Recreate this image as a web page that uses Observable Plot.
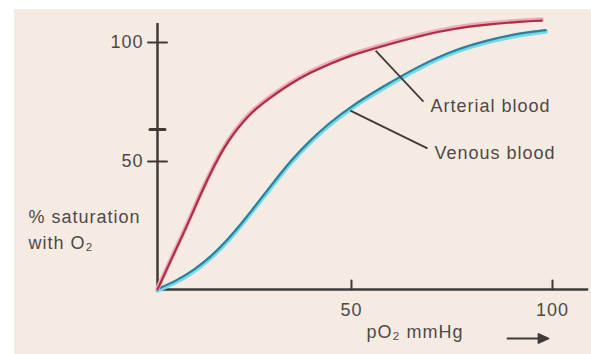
<!DOCTYPE html>
<html><head><meta charset="utf-8">
<script src="https://cdn.jsdelivr.net/npm/d3@7"></script>
<script src="https://cdn.jsdelivr.net/npm/@observablehq/plot@0.6"></script>
<style>
html,body{margin:0;padding:0;background:#fff;}
#chart{position:absolute;left:14px;top:9px;}
</style></head><body><div id="chart"></div>
<script>
// ---- data ----
const seriesNames = ["Arterial blood", "Venous blood"];
const arterialPO2 = [0, 3.4, 6.7, 9.3, 11.9, 14.4, 17, 19.6, 24, 29.1, 34.3, 39.4, 44.6, 49.7, 57.2, 67.2, 75.4, 83.8, 92, 97.3];
const arterialSat = [0, 11.3, 21.9, 30.9, 39.8, 47.7, 55.5, 61.8, 70.6, 76.9, 82.8, 87.4, 91.2, 94.5, 98.3, 102.9, 105.9, 107.6, 108.8, 109.2];
const venousPO2 = [0, 5.2, 9.3, 13.7, 18, 22.2, 26.6, 30.4, 34.5, 39.4, 44.6, 49.7, 57.2, 67.2, 75.4, 83.8, 92, 98.3];
const venousSat = [0, 3.5, 7.4, 12.5, 19.1, 26.6, 35.2, 42.6, 50.4, 58.8, 66.4, 72.7, 80.7, 90.3, 96.6, 100.8, 103.8, 105];
const xTickValues = [50, 100];
const yTickValues = [50, 100];
const yExtraTick = [63.4];
const xAxisExtent = [0, 109];
const yAxisExtent = [0, 108];
const leaderFromPO2 = [56, 49.7];
const leaderFromSat = [96.6, 71.4];
const leaderToPO2 = [67.9, 68.9];
const leaderToSat = [75.2, 55.5];
const yTitle = "% saturation\nwith O\u2082";
const xTitle = "pO\u2082 mmHg";

// ---- build tables ----
const toRows = (xs, ys) => xs.map((x, i) => ({x, y: ys[i]}));
const arterial = toRows(arterialPO2, arterialSat);
const venous = toRows(venousPO2, venousSat);
const leaders = seriesNames.map((name, i) => ({name, x1: leaderFromPO2[i], y1: leaderFromSat[i], x2: leaderToPO2[i], y2: leaderToSat[i]}));

// the printed axes are slightly uneven (hand-drawn); warp to match
const warpX = d3.scaleLinear().domain([0, 50, 100]).range([0, 49.11, 100]);
const warpY = d3.scaleLinear().domain([0, 50, 100]).range([0, 51.82, 100]);

const axisColor = "#3f3b38";
const textColor = "#4d4946";
const spike = {draw(ctx, l) { ctx.moveTo(0, 0); ctx.lineTo(0, -l); }};
const arrowShape = {draw(ctx, l) {
  const h = 10, w = 4.5;
  ctx.moveTo(0, 0); ctx.lineTo(0, -l + h);
  ctx.moveTo(-w, -l + h); ctx.lineTo(0, -l); ctx.lineTo(w, -l + h); ctx.closePath();
}};

const chart = Plot.plot({
  width: 577, height: 345,
  marginLeft: 143, marginRight: 39, marginTop: 33, marginBottom: 65,
  x: {type: "linear", transform: warpX, domain: [0, 100], range: [143, 538], axis: null},
  y: {type: "linear", transform: warpY, domain: [0, 100], range: [280, 33], axis: null},
  style: {background: "#f6ebe3", color: textColor, fontFamily: "'Liberation Sans', Arial, sans-serif", fontSize: "18px", letterSpacing: "1px"},
  marks: [
    Plot.ruleY([0], {x1: xAxisExtent[0], x2: xAxisExtent[1], stroke: axisColor, strokeWidth: 2.5}),
    Plot.ruleX([0], {y1: yAxisExtent[0], y2: yAxisExtent[1], stroke: axisColor, strokeWidth: 2.5}),
    Plot.vector(yTickValues, {x: 0, y: d => d, rotate: 90, length: 19, anchor: "middle", shape: spike, stroke: axisColor, strokeWidth: 2}),
    Plot.vector(yExtraTick, {x: 0, y: d => d, rotate: 90, length: 15, anchor: "middle", shape: spike, stroke: axisColor, strokeWidth: 3}),
    Plot.vector(xTickValues, {x: d => d, y: 0, rotate: 0, length: 9, anchor: "start", shape: spike, stroke: axisColor, strokeWidth: 2}),
    Plot.text(yTickValues, {x: 0, y: d => d, text: d => String(d), textAnchor: "end", dx: -14}),
    Plot.text(xTickValues, {x: d => d, y: 0, text: d => String(d), dy: 21}),
    Plot.text([yTitle], {frameAnchor: "left", text: d => d, textAnchor: "start", dx: -129, dy: 62, lineHeight: 1.4}),
    Plot.text([xTitle], {frameAnchor: "bottom", text: d => d, dx: 60, dy: 48}),
    Plot.vector([xTitle], {frameAnchor: "bottom-right", dx: -45, dy: 49, rotate: 90, length: 41, anchor: "start", shape: arrowShape, fill: axisColor, stroke: axisColor, strokeWidth: 1.8}),
    Plot.line(venous, {x: "x", y: "y", curve: "basis", stroke: "#72d9ea", strokeWidth: 4.5, dy: 1}),
    Plot.line(venous, {x: "x", y: "y", curve: "basis", stroke: "#2f7f97", strokeWidth: 2.2, dy: -0.5}),
    Plot.line(arterial, {x: "x", y: "y", curve: "basis", stroke: "#f2aab9", strokeWidth: 4.5, dy: -1}),
    Plot.line(arterial, {x: "x", y: "y", curve: "basis", stroke: "#ab2f44", strokeWidth: 2.2}),
    Plot.link(leaders, {x1: "x1", y1: "y1", x2: "x2", y2: "y2", stroke: axisColor, strokeWidth: 1.8}),
    Plot.text(leaders, {x: "x2", y: "y2", text: "name", textAnchor: "start", dx: 7, dy: 5})
  ]
});
document.getElementById("chart").appendChild(chart);
</script></body></html>
